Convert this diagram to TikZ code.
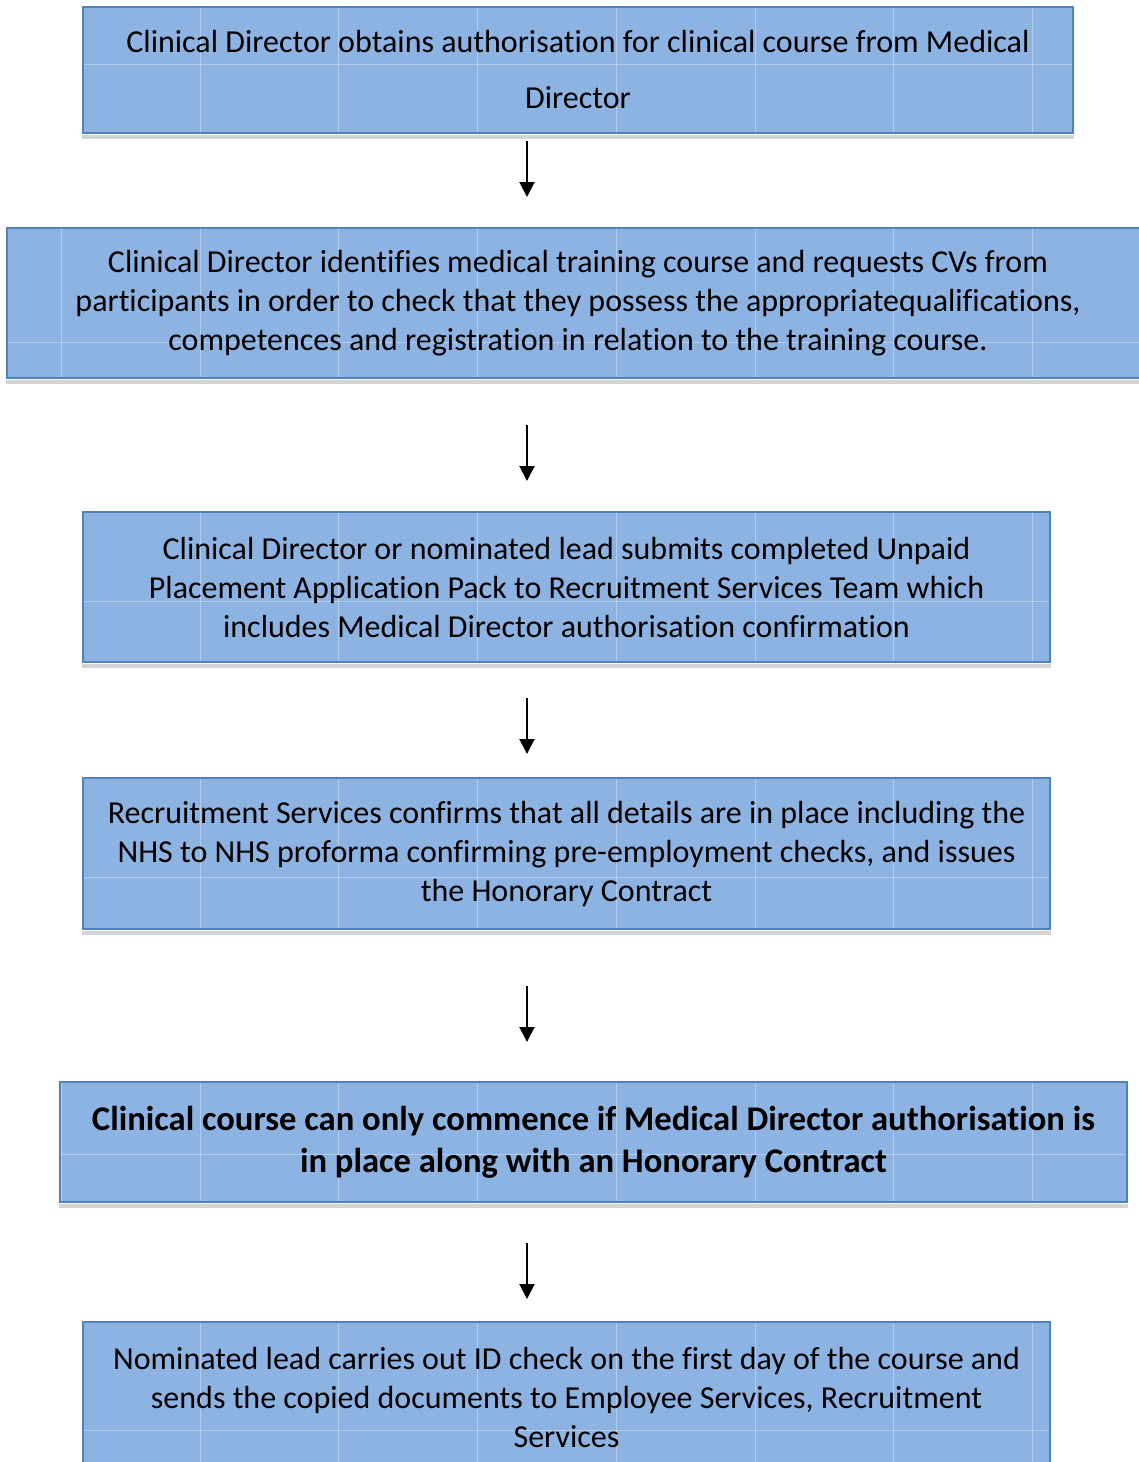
\documentclass[tikz,border=0pt]{standalone}
\usepackage{fontspec}
\setmainfont{Carlito}[Ligatures={NoCommon}]
\usetikzlibrary{arrows.meta, positioning, calc, backgrounds}

\definecolor{boxfill}{HTML}{8DB3E2}
\definecolor{boxedge}{HTML}{4F81BD}
\definecolor{boxshade}{HTML}{D4D4D4}

\begin{document}
\begin{tikzpicture}[
        x=0.5pt, y=-0.5pt,
        gridline/.style={white, opacity=0.35, line width=0.5pt},
        stepbox/.style={rectangle, draw=boxedge, line width=1pt, inner sep=0pt, align=center,
            font=\fontsize{16}{19.5}\selectfont},
        flow/.style={-{Triangle[length=7.5pt, width=7.5pt]}, line width=1pt}
    ]
        \useasboundingbox (0,0) rectangle (1139,1462);
        \clip (0,0) rectangle (1139,1462);

        % Steps
        \node[stepbox, minimum width=495pt, minimum height=63pt, font=\fontsize{16}{28}\selectfont] (obtain) at (578,70)
            {Clinical Director obtains authorisation for clinical course from Medical\\Director};
        \node[stepbox, minimum width=571pt, minimum height=75pt] (identify) at (578,303)
            {Clinical Director identifies medical training course and requests CVs from\\participants in order to check that they possess the appropriatequalifications,\\competences and registration in relation to the training course.};
        \node[stepbox, minimum width=483.5pt, minimum height=75pt] (submit) at (566.5,587)
            {Clinical Director or nominated lead submits completed Unpaid\\Placement Application Pack to Recruitment Services Team which\\includes Medical Director authorisation confirmation};
        \node[stepbox, minimum width=483.5pt, minimum height=75.5pt] (confirm) at (566.5,853.5)
            {Recruitment Services confirms that all details are in place including the\\NHS to NHS proforma confirming pre-employment checks, and issues\\the Honorary Contract};
        \node[stepbox, minimum width=533.5pt, minimum height=60pt, font=\bfseries\fontsize{17.3}{21}\selectfont] (commence) at (593.5,1142)
            {Clinical course can only commence if Medical Director authorisation is\\in place along with an Honorary Contract};
        \node[stepbox, minimum width=483.5pt, minimum height=75.5pt] (idcheck) at (566.5,1397.5)
            {Nominated lead carries out ID check on the first day of the course and\\sends the copied documents to Employee Services, Recruitment\\Services};

        % Fill, grid and shadow behind the text
        \begin{pgfonlayer}{background}
            \foreach \b in {obtain, identify, submit, confirm, commence, idcheck} {
                \fill[boxshade] ([yshift=-0.5pt]\b.south west) rectangle ([yshift=-2.5pt]\b.south east);
                \fill[boxfill] (\b.south west) rectangle (\b.north east);
                \begin{scope}
                    \clip (\b.south west) rectangle (\b.north east);
                    \foreach \gx in {61,200,338,477,616,755,893,1032}
                        \draw[gridline] (\gx,0) -- (\gx,1500);
                    \foreach \gy in {64,342,601,877,1154,1430}
                        \draw[gridline] (0,\gy) -- (1160,\gy);
                \end{scope}
            }
        \end{pgfonlayer}

        % Arrows
        \coordinate (axis) at (527,0);
        \foreach \from/\to/\gapa/\gapb in {obtain/identify/3.5pt/15pt, identify/submit/23pt/15pt,
                submit/confirm/17.5pt/11.5pt, confirm/commence/28pt/19.5pt, commence/idcheck/20pt/11pt} {
            \draw[flow, shorten <=\gapa, shorten >=\gapb] (\from.south -| axis) -- (\to.north -| axis);
        }
    \end{tikzpicture}
\end{document}
